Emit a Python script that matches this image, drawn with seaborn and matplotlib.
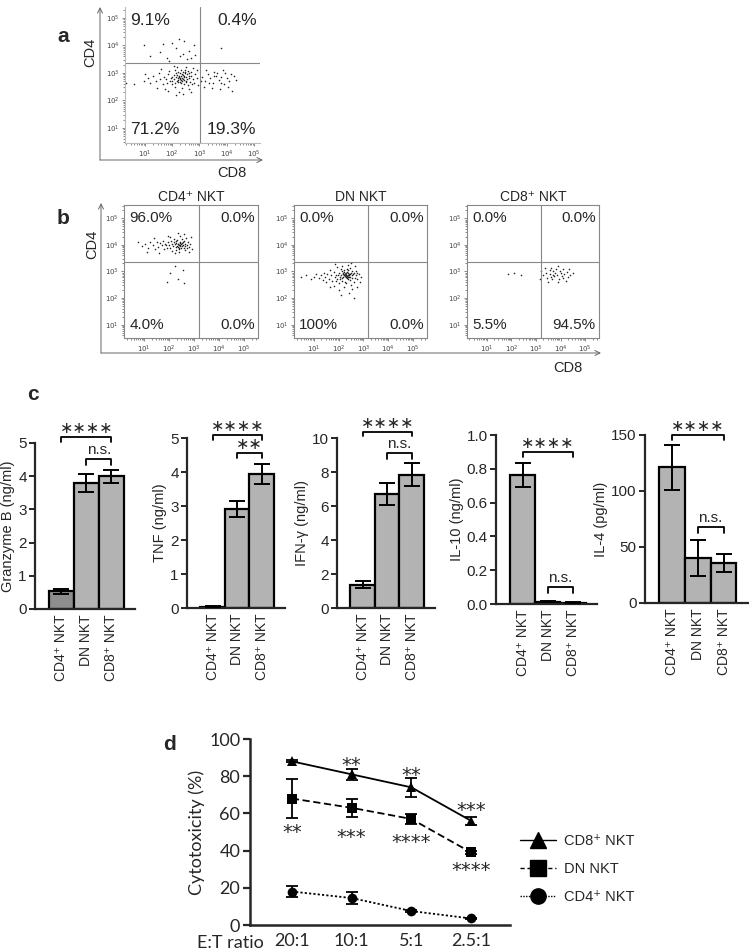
import numpy as np
import pandas as pd
import matplotlib.pyplot as plt
import seaborn as sns
from matplotlib.patches import FancyArrowPatch
from matplotlib.lines import Line2D
from matplotlib.ticker import FixedLocator, FuncFormatter, LogLocator, NullFormatter

W, H = 749, 950

# ---------------- data ----------------
# flow events, as (log10 CD8, log10 CD4)
a_events = [
    # upper left
    (0.95, 4.0), (1.2, 3.6), (1.55, 3.75), (1.8, 3.55), (2.0, 4.1), (2.15, 3.9), (2.3, 3.6),
    (2.45, 4.15), (2.6, 3.8), (2.7, 3.55), (2.8, 4.0), (2.4, 3.7), (1.9, 3.45), (2.55, 3.5),
    (2.25, 4.25), (1.65, 4.05), (2.85, 3.65),
    # upper right
    (3.8, 3.9),
    # lower left
    (2.30, 2.82), (2.25, 2.90), (2.40, 2.78), (2.35, 2.95), (2.20, 2.75), (2.45, 2.88), (2.50, 2.70),
    (2.15, 2.85), (2.28, 2.68), (2.38, 3.02), (2.05, 2.92), (2.55, 2.95), (2.60, 2.80), (2.12, 2.62),
    (2.42, 2.60), (2.32, 3.10), (1.95, 2.80), (2.65, 2.68), (2.70, 2.90), (2.00, 2.70), (1.85, 2.95),
    (1.80, 2.65), (2.48, 3.12), (2.22, 3.05), (2.58, 2.55), (2.75, 2.78), (1.90, 3.08), (2.10, 2.50),
    (2.35, 2.45), (2.68, 3.05), (1.70, 2.85), (1.65, 2.60), (2.80, 2.62), (2.85, 2.95), (1.55, 2.78),
    (1.50, 3.00), (2.90, 2.80), (2.18, 3.20), (2.52, 3.22), (1.75, 2.40), (1.40, 2.70), (2.95, 2.55),
    (1.30, 2.90), (2.62, 2.40), (2.25, 2.30), (1.20, 2.62), (1.10, 2.80), (2.05, 3.25), (2.78, 3.18),
    (1.60, 3.15), (0.95, 2.70), (1.45, 2.45), (2.40, 2.25), (2.92, 3.10), (1.85, 2.35), (0.60, 2.60),
    (0.30, 2.65), (2.15, 2.20), (1.00, 2.95), (2.70, 2.30), (2.33, 2.88), (2.27, 2.79), (2.44, 2.84),
    (2.19, 2.93), (2.36, 2.72), (2.52, 2.86), (2.08, 2.78), (2.60, 3.00), (1.98, 2.58), (2.47, 2.98),
    (2.31, 2.74), (2.39, 2.91), (2.23, 2.83), (2.43, 2.76), (2.29, 2.99), (2.17, 2.71), (2.56, 2.79),
    (2.34, 2.64), (2.13, 2.98), (2.49, 2.66), (2.26, 2.86), (2.37, 2.83), (2.21, 2.66), (2.63, 2.88),
    (2.01, 2.86), (2.46, 3.05), (1.92, 2.72), (2.72, 2.58), (2.09, 3.12), (2.58, 3.08), (1.78, 2.78),
    # lower right
    (3.10, 2.85), (3.20, 2.70), (3.30, 2.95), (3.40, 2.80), (3.50, 2.65), (3.60, 2.90), (3.70, 2.75),
    (3.80, 2.85), (3.90, 2.60), (4.00, 2.80), (4.10, 2.70), (4.25, 2.90), (4.35, 2.75), (3.25, 3.10),
    (3.55, 3.05), (3.85, 3.10), (3.15, 2.50), (3.45, 2.45), (3.75, 2.40), (4.05, 2.50), (4.20, 2.35),
    (3.95, 3.00), (3.35, 2.62), (3.65, 2.98), (3.05, 2.72), (3.52, 2.88), (3.78, 2.62), (4.15, 2.95),
]
b_cd4_events = [
    (2.40, 4.00), (2.35, 4.05), (2.45, 3.95), (2.50, 4.08), (2.30, 3.92), (2.55, 4.00), (2.42, 4.12),
    (2.25, 4.02), (2.60, 3.90), (2.38, 3.85), (2.20, 4.10), (2.48, 3.88), (2.65, 4.05), (2.15, 3.95),
    (2.33, 4.18), (2.70, 3.98), (2.10, 4.05), (2.58, 4.15), (2.05, 3.88), (2.75, 4.10), (2.00, 4.00),
    (2.28, 3.80), (2.62, 3.82), (1.95, 4.12), (2.80, 3.92), (1.90, 3.90), (2.52, 4.22), (2.18, 4.22),
    (1.85, 4.05), (2.85, 4.02), (1.80, 3.85), (2.40, 3.75), (1.75, 4.15), (2.12, 3.78), (2.68, 4.25),
    (1.70, 3.98), (1.65, 4.08), (2.90, 3.85), (1.55, 3.92), (1.50, 4.10), (2.02, 4.28), (1.45, 3.85),
    (2.45, 4.32), (1.35, 4.00), (1.25, 4.12), (2.78, 3.72), (1.15, 3.90), (1.05, 4.05), (0.90, 3.95),
    (0.75, 4.10), (1.60, 3.70), (2.22, 3.68), (1.95, 4.35), (2.60, 4.40), (1.40, 4.25), (2.35, 4.45),
    (1.10, 3.75), (2.88, 4.30), (2.43, 3.98), (2.37, 4.03), (2.47, 4.05), (2.32, 3.97), (2.52, 3.95),
    (2.27, 4.08), (2.44, 4.07), (2.36, 3.93), (2.56, 4.10), (2.29, 4.14), (2.63, 3.97), (2.41, 3.90),
    (1.88, 3.98), (2.08, 4.15), (2.73, 3.88),
    (2.05, 2.95), (2.35, 2.70), (2.55, 3.05), (2.25, 3.20), (2.60, 2.55), (1.90, 2.60),
]
b_dn_events = [
    (2.30, 2.87), (2.25, 2.92), (2.35, 2.82), (2.28, 2.78), (2.40, 2.90), (2.20, 2.85), (2.33, 2.98),
    (2.42, 2.80), (2.18, 2.95), (2.38, 2.72), (2.10, 2.88), (2.48, 2.95), (2.15, 2.75), (2.45, 2.68),
    (2.22, 3.05), (2.05, 2.80), (2.52, 2.85), (2.00, 2.95), (2.55, 2.75), (2.12, 2.65), (2.32, 3.10),
    (1.95, 2.70), (2.60, 2.95), (1.90, 2.88), (2.62, 2.62), (2.08, 3.08), (2.45, 3.12), (1.85, 2.78),
    (2.68, 2.85), (2.28, 2.55), (1.80, 2.98), (2.70, 3.02), (1.75, 2.65), (2.02, 2.55), (2.50, 2.50),
    (1.70, 2.85), (2.75, 2.72), (1.65, 3.05), (2.15, 3.20), (1.60, 2.72), (2.80, 2.90), (1.55, 2.90),
    (2.38, 3.25), (1.50, 2.60), (2.85, 2.60), (1.45, 2.80), (1.95, 3.18), (2.65, 3.20), (1.40, 2.95),
    (1.35, 2.68), (2.90, 2.80), (1.30, 2.85), (1.20, 2.75), (2.20, 2.40), (1.10, 2.90), (1.00, 2.80),
    (2.55, 2.35), (0.90, 2.70), (0.70, 2.85), (0.50, 2.78), (1.80, 2.45), (2.40, 2.20), (2.00, 2.30),
    (1.65, 2.40), (2.75, 2.40), (2.10, 2.10), (2.60, 2.00), (1.85, 3.30), (2.50, 3.32), (2.31, 2.86),
    (2.26, 2.84), (2.36, 2.93), (2.31, 2.80), (2.24, 2.90), (2.41, 2.86), (2.19, 2.80), (2.34, 2.76),
    (2.29, 2.96), (2.37, 2.88), (2.27, 2.89), (2.33, 2.84), (2.39, 2.79), (2.23, 2.97), (2.44, 2.92),
    (2.17, 2.89), (2.47, 2.78), (2.13, 3.00), (2.57, 2.90), (2.06, 2.72), (2.52, 3.03), (1.98, 2.86),
    (2.64, 2.76), (2.26, 2.62), (2.36, 3.05), (1.88, 2.66), (2.72, 2.95),
]
b_cd8_events = [
    (3.40, 2.95), (3.55, 2.90), (3.70, 3.00), (3.85, 2.85), (4.00, 2.95), (4.15, 2.90), (4.30, 2.80),
    (3.45, 2.75), (3.65, 2.70), (3.80, 3.10), (3.95, 2.72), (4.10, 3.08), (4.25, 2.98), (4.40, 2.88),
    (3.30, 2.85), (3.20, 3.00), (3.60, 3.15), (3.90, 3.20), (4.20, 2.65), (3.50, 2.60), (3.75, 2.82),
    (4.05, 2.82), (3.35, 3.12), (4.50, 2.95), (3.15, 2.70), (3.88, 2.62), (4.35, 3.10), (3.68, 2.88),
    (3.98, 3.02), (3.58, 3.05), (3.78, 2.93), (3.62, 2.80), (4.08, 2.74),
    (1.85, 2.90), (2.10, 2.95), (2.40, 2.88),
]
# quadrant percentages: UL, UR, LL, LR
a_quads = ['9.1%', '0.4%', '71.2%', '19.3%']
b_cd4_quads = ['96.0%', '0.0%', '4.0%', '0.0%']
b_dn_quads = ['0.0%', '0.0%', '100%', '0.0%']
b_cd8_quads = ['0.0%', '0.0%', '5.5%', '94.5%']
b_titles = ['CD4⁺ NKT', 'DN NKT', 'CD8⁺ NKT']

# panel c
groups = ['CD4⁺ NKT', 'DN NKT', 'CD8⁺ NKT']
gzmb_mean, gzmb_err = [0.53, 3.8, 4.0], [0.07, 0.27, 0.2]
tnf_mean, tnf_err = [0.04, 2.92, 3.94], [0.01, 0.23, 0.3]
ifng_mean, ifng_err = [1.38, 6.72, 7.85], [0.2, 0.65, 0.7]
il10_mean, il10_err = [0.765, 0.012, 0.008], [0.07, 0.003, 0.002]
il4_mean, il4_err = [121, 40, 36], [20, 16, 8]
# significance brackets: (from, to, height, tick, label)
gzmb_sig = [(0, 2, 5.18, 0.15, '****'), (1, 2, 4.52, 0.17, 'n.s.')]
tnf_sig = [(0, 2, 5.09, 0.15, '****'), (1, 2, 4.56, 0.15, '**')]
ifng_sig = [(0, 2, 10.35, 0.25, '****'), (1, 2, 9.1, 0.35, 'n.s.')]
il10_sig = [(0, 2, 0.90, 0.03, '****'), (1, 2, 0.10, 0.035, 'n.s.')]
il4_sig = [(0, 2, 150, 4.5, '****'), (1, 2, 68, 5.5, 'n.s.')]

# panel d
ratios = ['20:1', '10:1', '5:1', '2.5:1']
cd8_cyto, cd8_sd = [88, 81, 74, 56], [0.5, 3, 5, 2]
dn_cyto, dn_sd = [68, 63, 57, 39], [10.5, 5, 2.5, 1]
cd4_cyto, cd4_sd = [18, 14.5, 7.5, 3.5], [3, 3, 0.5, 0.5]
cd8_stars, cd8_star_y = ['', '**', '**', '***'], [0, 88.7, 83.3, 64.5]
dn_stars, dn_star_y = ['**', '***', '****', '****'], [52.7, 50, 47.3, 32.3]

# ---------------- figure ----------------
sns.set_style('ticks')
plt.rcParams['font.family'] = ['Liberation Sans', 'DejaVu Sans']
CAL = ['Lato', 'DejaVu Sans']

fig = plt.figure(figsize=(W / 100, H / 100), dpi=100)


def rect(l, t, r, b):
    return [l / W, 1 - b / H, (r - l) / W, (b - t) / H]


def fpt(x, y):
    return (x / W, 1 - y / H)


def arrow(x0, y0, x1, y1):
    fig.add_artist(FancyArrowPatch(fpt(x0, y0), fpt(x1, y1), transform=fig.transFigure,
                                   arrowstyle='->', mutation_scale=9, lw=0.7, color='#666',
                                   shrinkA=0, shrinkB=0))


def flow(ax, events, quads, xlim, ylim, vline, hline, fs, box=True):
    df = pd.DataFrame(events, columns=['cd8', 'cd4'])
    ax.set_xscale('log')
    ax.set_yscale('log')
    sns.scatterplot(x=10 ** df['cd8'], y=10 ** df['cd4'], s=1.3, color='#222',
                    linewidth=0, ax=ax)
    ax.set_xlim(10 ** xlim[0], 10 ** xlim[1])
    ax.set_ylim(10 ** ylim[0], 10 ** ylim[1])
    ax.axvline(10 ** vline, color='#888', lw=0.8)
    ax.axhline(10 ** hline, color='#888', lw=0.8)
    fmt = FuncFormatter(lambda v, p: '$10^{%d}$' % round(np.log10(v)))
    for axis in (ax.xaxis, ax.yaxis):
        axis.set_major_locator(FixedLocator([1e1, 1e2, 1e3, 1e4, 1e5]))
        axis.set_major_formatter(fmt)
        axis.set_minor_locator(LogLocator(base=10, subs=np.arange(2, 10)))
        axis.set_minor_formatter(NullFormatter())
    ax.tick_params(which='both', labelsize=5, width=0.6, color='#777', pad=1.5,
                   labelcolor='#444')
    ax.tick_params(which='major', length=2.5)
    ax.tick_params(which='minor', length=1.5)
    ax.set_xlabel('')
    ax.set_ylabel('')
    for sp in ax.spines.values():
        sp.set_color('#888')
        sp.set_linewidth(0.8)
    if not box:
        ax.spines['top'].set_visible(False)
        ax.spines['right'].set_visible(False)
        ax.spines['left'].set_color('#bbb')
        ax.spines['bottom'].set_color('#bbb')
    kw = dict(transform=ax.transAxes, va='center', fontsize=fs)
    ax.text(0.04, 0.90, quads[0], ha='left', **kw)
    ax.text(0.975, 0.90, quads[1], ha='right', **kw)
    ax.text(0.04, 0.10, quads[2], ha='left', **kw)
    ax.text(0.975, 0.10, quads[3], ha='right', **kw)


# ---- panel a ----
ax_a = fig.add_axes(rect(125, 7, 260, 143))
flow(ax_a, a_events, a_quads, (0.27, 5.22), (0.45, 5.4), 3.02, 3.37, 12.5, box=False)
arrow(100, 160, 100, 7)
arrow(100, 160, 263, 160)
fig.text(*fpt(90, 52), 'CD4', rotation=90, ha='center', va='center', fontsize=10.5)
fig.text(*fpt(232, 173), 'CD8', ha='center', va='center', fontsize=10.5)
fig.text(*fpt(63, 36), 'a', ha='center', va='center', fontsize=15, fontweight='bold')

# ---- panel b ----
b_rects = [(124, 205, 258, 338), (294, 205, 427, 338), (467, 205, 599, 338)]
for r, ev, q, t in zip(b_rects, [b_cd4_events, b_dn_events, b_cd8_events],
                       [b_cd4_quads, b_dn_quads, b_cd8_quads], b_titles):
    ax = fig.add_axes(rect(*r))
    flow(ax, ev, q, (0.2, 5.56), (0.5, 5.5), 3.2, 3.37, 11)
    ax.set_title(t, fontsize=10, pad=3)
arrow(101, 353, 101, 203)
arrow(101, 353, 601, 353)
fig.text(*fpt(92, 244), 'CD4', rotation=90, ha='center', va='center', fontsize=10.5)
fig.text(*fpt(568, 368), 'CD8', ha='center', va='center', fontsize=10.5)
fig.text(*fpt(63, 218), 'b', ha='center', va='center', fontsize=15, fontweight='bold')

# ---- panel c ----
c_rects = [(35, 443, 135, 609), (187, 438, 285, 608), (337, 438, 435, 608),
           (496, 435, 597, 604), (645, 435, 748, 603)]
c_means = [gzmb_mean, tnf_mean, ifng_mean, il10_mean, il4_mean]
c_errs = [gzmb_err, tnf_err, ifng_err, il10_err, il4_err]
c_sigs = [gzmb_sig, tnf_sig, ifng_sig, il10_sig, il4_sig]
c_labels = ['Granzyme B (ng/ml)', 'TNF (ng/ml)', 'IFN-γ (ng/ml)', 'IL-10 (ng/ml)', 'IL-4 (pg/ml)']
c_ticks = [np.arange(0, 6, 1), np.arange(0, 6, 1), np.arange(0, 11, 2),
           np.arange(0, 1.01, 0.2), np.arange(0, 151, 50)]
light, dark = '#b3b3b3', '#8e8e8e'

for i, r in enumerate(c_rects):
    ax = fig.add_axes(rect(*r))
    cols = [dark if i == 0 else light, light, light]
    sns.barplot(x=groups, y=c_means[i], hue=groups, palette=cols, legend=False,
                width=1, saturation=1, edgecolor='black', linewidth=1.6,
                errorbar=None, ax=ax)
    ax.errorbar(range(len(groups)), c_means[i], yerr=c_errs[i], fmt='none', ecolor='black',
                elinewidth=1.4, capsize=6, capthick=1.4, zorder=5)
    ax.set_xlim(-1.05, 2.95)
    ax.set_ylim(0, c_ticks[i][-1])
    ax.set_yticks(c_ticks[i])
    if i == 3:
        ax.set_yticklabels([f'{v:.1f}' for v in c_ticks[i]])
    ax.set_xticks(range(len(groups)))
    ax.set_xticklabels(groups, rotation=90)
    ax.tick_params(axis='x', length=0, pad=4, labelsize=10)
    ax.tick_params(axis='y', length=4, width=1.4, pad=2, labelsize=11)
    ax.set_ylabel(c_labels[i], fontsize=10.5, labelpad=2)
    ax.set_xlabel('')
    sns.despine(ax=ax)
    for sp in ('left', 'bottom'):
        ax.spines[sp].set_linewidth(1.6)
    for x0, x1, y, tk, s in c_sigs[i]:
        ax.plot([x0, x0, x1, x1], [y - tk, y, y, y - tk], color='black', lw=1.3,
                clip_on=False)
        if '*' in s:
            ax.annotate(s.replace('*', '∗'), ((x0 + x1) / 2, y), xytext=(0, 0.5),
                        textcoords='offset points', ha='center', va='bottom',
                        fontsize=11.5, family=['DejaVu Sans'], annotation_clip=False)
        else:
            ax.annotate(s, ((x0 + x1) / 2, y), xytext=(0, 1.5), textcoords='offset points',
                        ha='center', va='bottom', fontsize=11, annotation_clip=False)
fig.text(*fpt(33, 395), 'c', ha='center', va='center', fontsize=15, fontweight='bold')

# ---- panel d ----
ax_d = fig.add_axes(rect(250, 739, 510, 925))
xpos = np.arange(len(ratios))
series = [(cd8_cyto, cd8_sd, '^', '-'), (dn_cyto, dn_sd, 's', (0, (4, 2))),
          (cd4_cyto, cd4_sd, 'o', (0, (1.2, 1.2)))]
for vals, sd, mk, ls in series:
    sns.lineplot(x=xpos, y=vals, color='black', lw=1.3, linestyle=ls, marker=mk,
                 markersize=7, markeredgewidth=0, ax=ax_d)
    ax_d.errorbar(xpos, vals, yerr=sd, fmt='none', ecolor='black', elinewidth=1.3,
                  capsize=4, capthick=1.3)
for stars, ys in ((cd8_stars, cd8_star_y), (dn_stars, dn_star_y)):
    for x, s, y in zip(xpos, stars, ys):
        ax_d.annotate(s, (x, y), xytext=(0, -8), textcoords='offset points',
                      ha='center', va='baseline', fontsize=14, family=['DejaVu Sans'])
ax_d.set_xlim(-0.7, 3.65)
ax_d.set_ylim(0, 100)
ax_d.set_yticks(np.arange(0, 101, 20))
ax_d.set_xticks(xpos)
ax_d.set_xticklabels(ratios, family=CAL, fontsize=13)
for lab in ax_d.get_yticklabels():
    lab.set_family(CAL)
    lab.set_fontsize(13)
ax_d.tick_params(axis='x', length=0, pad=6)
ax_d.tick_params(axis='y', length=5, width=1.6, pad=2)
ax_d.set_ylabel('Cytotoxicity (%)', family=CAL, fontsize=13, labelpad=3)
sns.despine(ax=ax_d)
for sp in ('left', 'bottom'):
    ax_d.spines[sp].set_linewidth(1.8)
fig.text(*fpt(230, 943), 'E:T ratio', ha='center', va='center', family=CAL, fontsize=13)
fig.text(*fpt(170, 745), 'd', ha='center', va='center', fontsize=15, fontweight='bold')

handles = [Line2D([], [], color='black', lw=1, linestyle='-', marker='^', markersize=11),
           Line2D([], [], color='black', lw=1, linestyle=(0, (3, 2)), marker='s', markersize=11),
           Line2D([], [], color='black', lw=1, linestyle=(0, (1, 1)), marker='o', markersize=11)]
ax_d.legend(handles, ['CD8⁺ NKT', 'DN NKT', 'CD4⁺ NKT'], loc='upper left',
            bbox_to_anchor=fpt(520, 834), bbox_transform=fig.transFigure, frameon=False,
            fontsize=10.5, handlelength=2.5, handletextpad=0.5, labelspacing=0.95,
            borderpad=0, borderaxespad=0)

fig.savefig('out.png', dpi=100)
